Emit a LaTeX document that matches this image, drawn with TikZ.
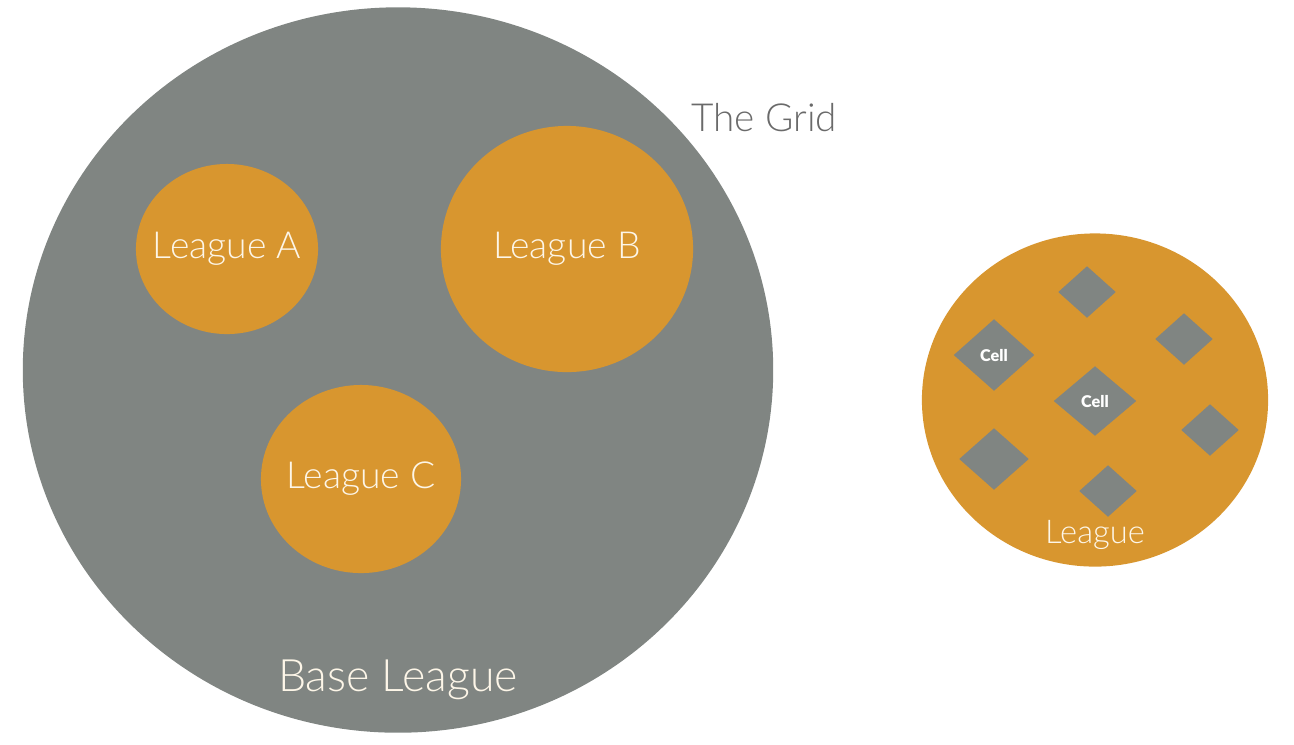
\documentclass[tikz,border=0pt]{standalone}
\usepackage{fontspec}
\setmainfont{Lato Light}
\newfontfamily\cellfont{Lato Black}
\usetikzlibrary{shapes.geometric}
\definecolor{gridgray}{HTML}{808582}
\definecolor{leagueorange}{HTML}{D8962F}
\definecolor{labelgray}{HTML}{6A6A6A}
\definecolor{cream}{HTML}{FDF6E8}
\begin{document}
\begin{tikzpicture}[x=0.01cm, y=-0.01cm,
  base node/.style={ellipse, fill=gridgray, inner sep=0pt},
  league node/.style={ellipse, fill=leagueorange, inner sep=0pt},
  every label/.style={text=cream, inner sep=0pt, font=\fontsize{10.6}{13}\selectfont},
  cell node/.style={diamond, fill=gridgray, inner sep=0pt, aspect=1.12, text=white, font=\cellfont\fontsize{4.6}{5}\selectfont}]
\useasboundingbox (0,0) rectangle (1294,744);
\begin{scope}
\node[base node, minimum width=7.50cm, minimum height=7.25cm] (base) at (398,370) {};
\node[league node, label=center:League A] (lA) at (227,249) [minimum width=1.82cm, minimum height=1.70cm] {};
\node[league node, label=center:League B] (lB) at (567,249) [minimum width=2.52cm, minimum height=2.46cm] {};
\node[league node, label=center:League C] (lC) at (361,479) [minimum width=2.00cm, minimum height=1.88cm] {};
\node[text=cream, font=\fontsize{12.7}{15}\selectfont] (baselbl) at (398,680) {Base League};
\node[text=labelgray, font=\fontsize{11}{13}\selectfont] (gridlbl) at (764,118) {The Grid};
\end{scope}
\begin{scope}
\node[league node, minimum width=3.46cm, minimum height=3.33cm] (league) at (1095,400) {};
\node[cell node, minimum width=0.58cm, minimum height=0.52cm] (c1) at (1087,292) {};
\node[cell node, minimum width=0.58cm, minimum height=0.52cm] (c2) at (1184,339) {};
\node[cell node, minimum width=0.81cm, minimum height=0.72cm] (c3) at (994,355) {Cell};
\node[cell node, minimum width=0.83cm, minimum height=0.70cm] (c4) at (1095,401) {Cell};
\node[cell node, minimum width=0.58cm, minimum height=0.52cm] (c5) at (1210,430) {};
\node[cell node, minimum width=0.70cm, minimum height=0.62cm] (c6) at (994,459) {};
\node[cell node, minimum width=0.58cm, minimum height=0.52cm] (c7) at (1108,491) {};
\node[text=cream, font=\fontsize{9.3}{12}\selectfont] (leaguelbl) at (1095,535) {League};
\end{scope}
\end{tikzpicture}
\end{document}
